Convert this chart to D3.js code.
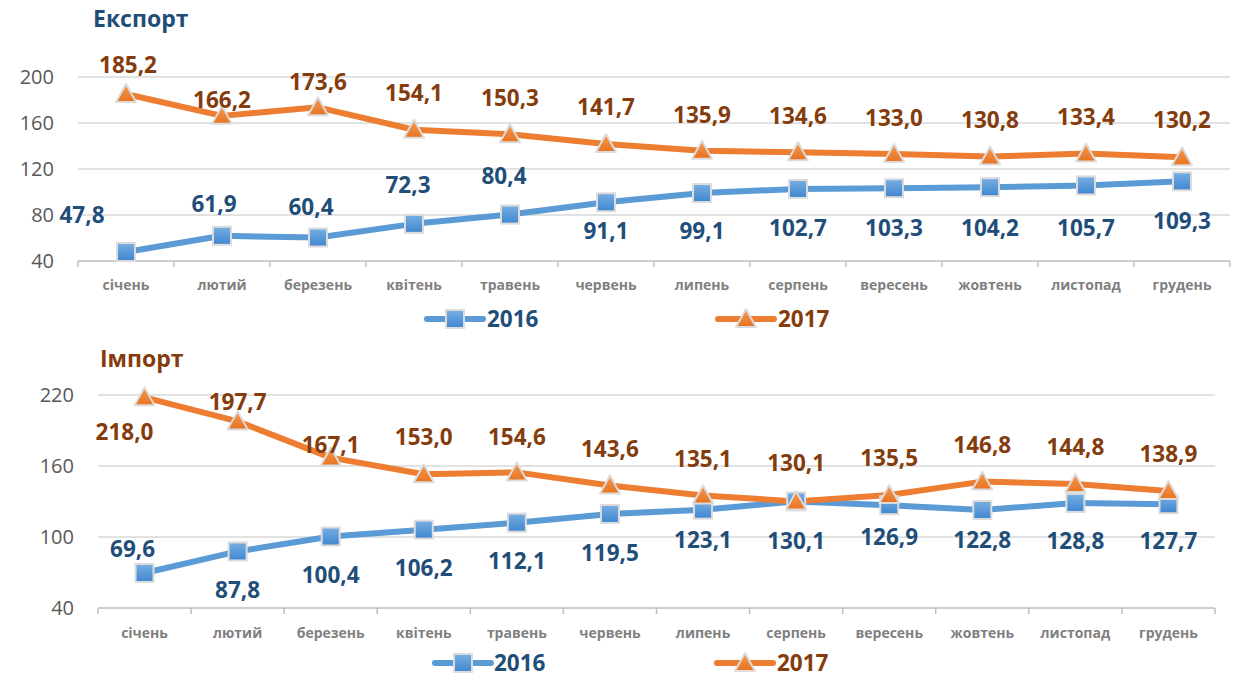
<!DOCTYPE html>
<html>
<head>
<meta charset="utf-8">
<script src="https://cdn.jsdelivr.net/npm/d3@7"></script>
<style>
  body { margin: 0; background: #fff; }
  svg { font-family: "Open Sans", sans-serif; }
</style>
</head>
<body>
<svg width="1240" height="677"></svg>
<script>
// months on the x axis
var months = ["січень","лютий","березень","квітень","травень","червень",
              "липень","серпень","вересень","жовтень","листопад","грудень"];
var years = ["2016", "2017"];

// export, both years
var export2016 = [47.8, 61.9, 60.4, 72.3, 80.4, 91.1, 99.1, 102.7, 103.3, 104.2, 105.7, 109.3];
var export2017 = [185.2, 166.2, 173.6, 154.1, 150.3, 141.7, 135.9, 134.6, 133.0, 130.8, 133.4, 130.2];
var exportTicks = [40, 80, 120, 160, 200];

// import, both years
var import2016 = [69.6, 87.8, 100.4, 106.2, 112.1, 119.5, 123.1, 130.1, 126.9, 122.8, 128.8, 127.7];
var import2017 = [218.0, 197.7, 167.1, 153.0, 154.6, 143.6, 135.1, 130.1, 135.5, 146.8, 144.8, 138.9];
var importTicks = [40, 100, 160, 220];

// where each data label sits relative to its point (label layout, not data)
var expLab16 = [[-44,-37],[-8,-32],[-7,-31],[-6,-39],[-6,-39],[0,29],[0,38],[0,39],[0,40],[0,41],[0,42],[0,40]];
var expLab17 = [[2,-29],[0,-16],[0,-25],[0,-37],[0,-36],[0,-37],[0,-36],[0,-36],[0,-36],[0,-37],[0,-37],[0,-37]];
var impLab16 = [[-12,-24],[0,38],[0,38],[0,38],[0,38],[0,39],[0,30],[0,40],[0,32],[0,30],[0,38],[0,37]];
var impLab17 = [[-20,35],[0,-19],[0,-13],[0,-37],[0,-35],[0,-37],[0,-37],[0,-38],[0,-37],[0,-37],[0,-37],[0,-37]];

var fmt = function(v) { return d3.format(".1f")(v).replace(".", ","); };

var svg = d3.select("svg");

var defs = svg.append("defs");
var grad = defs.append("linearGradient").attr("id", "blueGrad")
    .attr("x1", 0).attr("y1", 0).attr("x2", 0).attr("y2", 1);
grad.append("stop").attr("offset", "0%").attr("stop-color", "#78aee3");
grad.append("stop").attr("offset", "100%").attr("stop-color", "#3f86cf");
var grad2 = defs.append("linearGradient").attr("id", "orangeGrad")
    .attr("x1", 0).attr("y1", 0).attr("x2", 0).attr("y2", 1);
grad2.append("stop").attr("offset", "0%").attr("stop-color", "#f59a55");
grad2.append("stop").attr("offset", "100%").attr("stop-color", "#e8731f");

var blue = "#5b9bd5", orange = "#ed7d31";
var blueText = "#1f4e79", brownText = "#843c0c";

function square(g, x, y) {
  g.append("rect").attr("x", x - 9).attr("y", y - 9)
    .attr("width", 18).attr("height", 18)
    .attr("fill", "url(#blueGrad)")
    .attr("stroke", "#dcdcdc").attr("stroke-width", 2);
}
function triangle(g, x, y) {
  g.append("path")
    .attr("d", "M" + x + "," + (y - 10) + "L" + (x + 10) + "," + (y + 8) + "L" + (x - 10) + "," + (y + 8) + "Z")
    .attr("fill", "url(#orangeGrad)")
    .attr("stroke", "#dcdcdc").attr("stroke-width", 2)
    .attr("stroke-linejoin", "round");
}

function drawChart(c) {
  var g = svg.append("g");

  var x = d3.scaleBand().domain(months).range([c.left, c.right]);
  var y = d3.scaleLinear().domain([c.ticks[0], c.ticks[c.ticks.length - 1]])
      .range([c.bottom, c.top]);

  // title
  g.append("text").attr("x", c.titleX).attr("y", c.titleY)
    .attr("font-size", 23).attr("font-weight", 700)
    .attr("fill", c.titleColor).text(c.title);

  // grid
  g.selectAll(".grid").data(c.ticks.slice(1)).enter().append("line")
    .attr("x1", c.left).attr("x2", c.right)
    .attr("y1", function(d) { return y(d); })
    .attr("y2", function(d) { return y(d); })
    .attr("stroke", "#d9d9d9").attr("stroke-width", 1.5);

  // y labels
  g.selectAll(".ylab").data(c.ticks).enter().append("text")
    .attr("x", c.left - 24)
    .attr("y", function(d) { return y(d); })
    .attr("dy", "0.36em")
    .attr("text-anchor", "end")
    .attr("font-size", 20).attr("fill", "#595959")
    .text(function(d) { return d; });

  // x axis
  var xAxis = d3.axisBottom(x).tickSize(0).tickPadding(0);
  var ax = g.append("g").attr("transform", "translate(0," + c.bottom + ")").call(xAxis);
  ax.select(".domain").remove();
  ax.selectAll("text").attr("font-size", 14).attr("font-weight", 700)
    .attr("fill", "#7f7f7f").attr("font-family", "Open Sans, sans-serif")
    .attr("dy", null).attr("y", c.catY - c.bottom);
  g.append("line").attr("x1", c.left).attr("x2", c.right)
    .attr("y1", c.bottom).attr("y2", c.bottom)
    .attr("stroke", "#bfbfbf").attr("stroke-width", 1.5);
  var edges = months.map(function(m) { return x(m); }).concat([c.right]);
  g.selectAll(".tk").data(edges).enter().append("line")
    .attr("x1", function(d) { return d; }).attr("x2", function(d) { return d; })
    .attr("y1", c.bottom).attr("y2", c.bottom + 6)
    .attr("stroke", "#bfbfbf").attr("stroke-width", 1.5);

  var cx = function(d, i) { return x(months[i]) + x.bandwidth() / 2; };
  var line = d3.line().x(cx).y(function(d) { return y(d); });

  [[c.s16, blue], [c.s17, orange]].forEach(function(s) {
    g.append("path").datum(s[0]).attr("d", line)
      .attr("fill", "none").attr("stroke", s[1]).attr("stroke-width", 6)
      .attr("stroke-linejoin", "round");
  });

  c.s16.forEach(function(d, i) { square(g, cx(d, i), y(d)); });
  c.s17.forEach(function(d, i) { triangle(g, cx(d, i), y(d)); });

  [[c.s16, c.l16, blueText], [c.s17, c.l17, brownText]].forEach(function(s) {
    g.selectAll(null).data(s[0]).enter().append("text")
      .attr("x", function(d, i) { return cx(d, i) + s[1][i][0]; })
      .attr("y", function(d, i) { return y(d) + s[1][i][1]; })
      .attr("dy", "0.36em")
      .attr("text-anchor", "middle")
      .attr("font-size", 22.5).attr("font-weight", 700)
      .attr("fill", s[2])
      .text(fmt);
  });

  // legend
  c.legend.forEach(function(L, k) {
    var lg = g.append("g");
    lg.append("line").attr("x1", L[0] - 28).attr("x2", L[0] + 28)
      .attr("y1", c.legendY).attr("y2", c.legendY)
      .attr("stroke", k === 0 ? blue : orange).attr("stroke-width", 6)
      .attr("stroke-linecap", "round");
    if (k === 0) square(lg, L[0], c.legendY);
    else triangle(lg, L[0], c.legendY);
    lg.append("text").attr("x", L[1]).attr("y", c.legendY)
      .attr("dy", "0.36em").attr("font-size", 22.5).attr("font-weight", 700)
      .attr("fill", k === 0 ? blueText : brownText)
      .text(years[k]);
  });
}

drawChart({
  title: "Експорт", titleX: 93, titleY: 27, titleColor: blueText,
  left: 78, right: 1230, top: 77, bottom: 261, catY: 290,
  ticks: exportTicks, s16: export2016, s17: export2017,
  l16: expLab16, l17: expLab17,
  legendY: 319, legend: [[455, 487], [746, 778]]
});

drawChart({
  title: "Імпорт", titleX: 100, titleY: 367, titleColor: brownText,
  left: 98, right: 1215, top: 395, bottom: 608, catY: 638,
  ticks: importTicks, s16: import2016, s17: import2017,
  l16: impLab16, l17: impLab17,
  legendY: 663, legend: [[463, 494], [745, 777]]
});
</script>
</body>
</html>
